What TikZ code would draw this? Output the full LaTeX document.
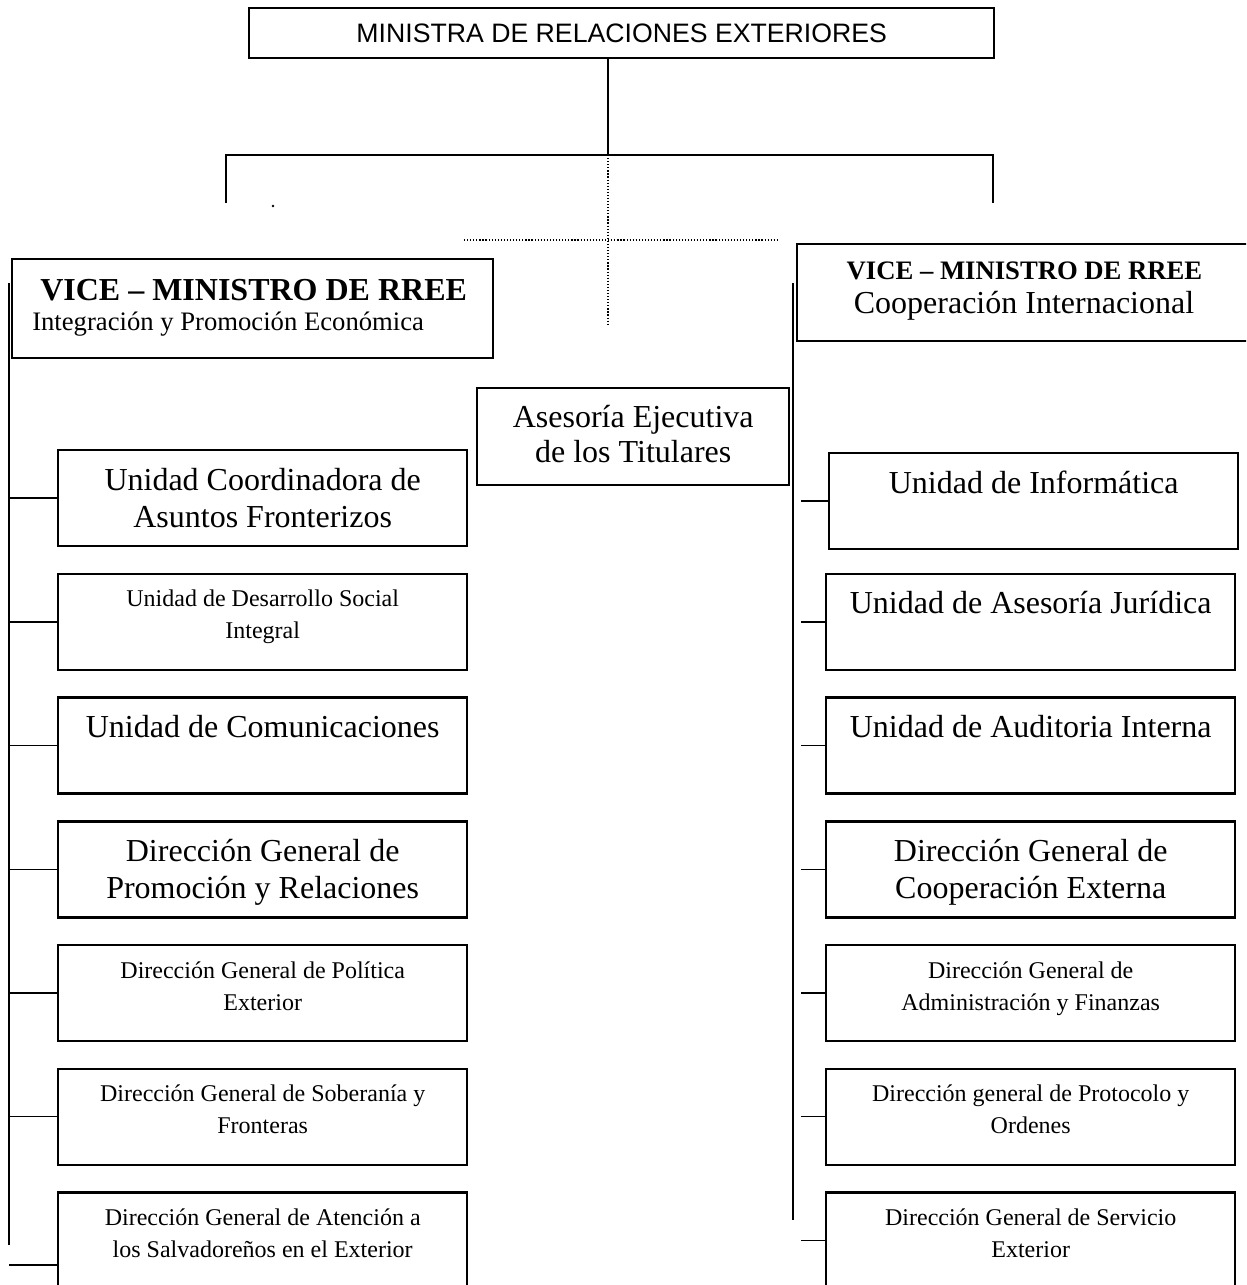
\documentclass[tikz,border=0pt]{standalone}
\usepackage{fontspec}
\setmainfont{Liberation Serif}
\newfontfamily\arialf{Liberation Sans}
\newcommand\fbig{\fontsize{24}{28}\selectfont}
\newcommand\fsmall{\fontsize{18}{24}\selectfont}
\newcommand\fmid{\fontsize{20}{24}\selectfont}
\newcommand\strutL{\rule{0pt}{30.75pt}}
\newcommand\strutS{\rule{0pt}{25.5pt}}
\newcommand\strutA{\rule{0pt}{30pt}}
\begin{document}
\begin{tikzpicture}[x=0.75pt,y=-0.75pt,
  box/.style={draw, line width=1.8pt, rectangle, inner sep=0pt, anchor=north west},
  unitbox/.style={box, minimum width=306.75pt, minimum height=72pt},
  tbig/.style={anchor=north, inner sep=0pt, align=center, font=\fbig},
  tsmall/.style={anchor=north, inner sep=0pt, align=center, font=\fsmall},
  con/.style={line width=1.1pt},
  spine/.style={line width=1.2pt},
  topcon/.style={line width=1.3pt},
  dotline/.style={line width=1pt, dash pattern=on 0.9pt off 1.4pt}]
\useasboundingbox (0,0) rectangle (1246,1285);
\clip (0,0) rectangle (1246,1285);

% top
\node[box, minimum width=558.75pt, minimum height=37.5pt, font=\arialf\fontsize{20}{24}\selectfont] (min) at (248,7) {MINISTRA DE RELACIONES EXTERIORES};
\coordinate (jn) at (608,155);
\coordinate (hl) at (226,155);
\coordinate (hr) at (993,155);
\coordinate (dl) at (226,203);
\coordinate (dr) at (993,203);
\draw[topcon] (min.south -| jn) -- (jn);
\draw[topcon] (dl) -- (hl) -- (hr) -- (dr);
\fill (273,206) circle[radius=1.4];
\coordinate (dv) at (608,324);
\coordinate (dh1) at (464,240);
\coordinate (dh2) at (778,240);
\draw[dotline] (jn) -- (dv);
\draw[dotline] (dh1) -- (dh2);

% vice ministers
\node[box, minimum width=360.75pt, minimum height=74.25pt] (vml) at (11,258) {};
\node[anchor=base west, inner sep=0pt, font=\fbig\bfseries] (vml1) at (40,300) {VICE – MINISTRO DE RREE};
\node[anchor=base west, inner sep=0pt, font=\fmid] (vml2) at (32,330) {Integración y Promoción Económica};

\node[box, minimum width=342pt, minimum height=72.75pt] (vmr) at (796,243) {};
\node[anchor=base, inner sep=0pt, font=\fmid\bfseries] (vmr1) at (1024.5,279) {VICE – MINISTRO DE RREE};
\node[anchor=base, inner sep=0pt, font=\fbig] (vmr2) at (1024,313) {Cooperación Internacional};

% asesoria
\node[box, minimum width=234pt, minimum height=72.75pt] (ase) at (476,387) {};
\node[anchor=north, inner sep=0pt, align=center, font=\fontsize{24}{26.25}\selectfont] (aset) at (ase.north) {\strutA Asesoría Ejecutiva\\de los Titulares};

% spines
\coordinate (ls0) at (9,283);
\coordinate (ls1) at (9,1245);
\coordinate (rs0) at (793,283);
\coordinate (rs1) at (793,1220);
\draw[spine] (ls0) -- (ls1);
\draw[spine] (rs0) -- (rs1);
\coordinate (rc) at (801,0);

% left column
\node[unitbox] (L1) at (57,449) {};
\node[tbig] (L1t) at (L1.north) {\strutL Unidad Coordinadora de\\Asuntos Fronterizos};
\node[unitbox] (L2) at (57,572.7) {};
\node[tsmall] (L2t) at (L2.north) {\strutS Unidad de Desarrollo Social\\Integral};
\node[unitbox] (L3) at (57,696.4) {};
\node[tbig] (L3t) at (L3.north) {\strutL Unidad de Comunicaciones};
\node[unitbox] (L4) at (57,820.1) {};
\node[tbig] (L4t) at (L4.north) {\strutL Dirección General de\\Promoción y Relaciones};
\node[unitbox] (L5) at (57,943.8) {};
\node[tsmall] (L5t) at (L5.north) {\strutS Dirección General de Política\\Exterior};
\node[unitbox] (L6) at (57,1067.5) {};
\node[tsmall] (L6t) at (L6.north) {\strutS Dirección General de Soberanía y\\Fronteras};
\node[unitbox] (L7) at (57,1191.2) {};
\node[tsmall] (L7t) at (L7.north) {\strutS Dirección General de Atención a\\los Salvadoreños en el Exterior};

\foreach \n in {L1,L2,L3,L4,L5,L6}{\draw[con] (\n.west) -- (\n.west -| ls0);}
\coordinate (l7c) at (9,1265);
\draw[con] (l7c) -- (l7c -| L7.west);

% right column
\node[unitbox] (R1) at (828,452) {};
\node[tbig] (R1t) at (R1.north) {\strutL Unidad de Informática};
\node[unitbox] (R2) at (825,572.7) {};
\node[tbig] (R2t) at (R2.north) {\strutL Unidad de Asesoría Jurídica};
\node[unitbox] (R3) at (825,696.4) {};
\node[tbig] (R3t) at (R3.north) {\strutL Unidad de Auditoria Interna};
\node[unitbox] (R4) at (825,820.1) {};
\node[tbig] (R4t) at (R4.north) {\strutL Dirección General de\\Cooperación Externa};
\node[unitbox] (R5) at (825,943.8) {};
\node[tsmall] (R5t) at (R5.north) {\strutS Dirección General de\\Administración y Finanzas};
\node[unitbox] (R6) at (825,1067.5) {};
\node[tsmall] (R6t) at (R6.north) {\strutS Dirección general de Protocolo y\\Ordenes};
\node[unitbox] (R7) at (825,1191.2) {};
\node[tsmall] (R7t) at (R7.north) {\strutS Dirección General de Servicio\\Exterior};

\foreach \n in {R1,R2,R3,R4,R5,R6,R7}{\draw[con] (\n.west) -- (\n.west -| rc);}
\end{tikzpicture}
\end{document}
